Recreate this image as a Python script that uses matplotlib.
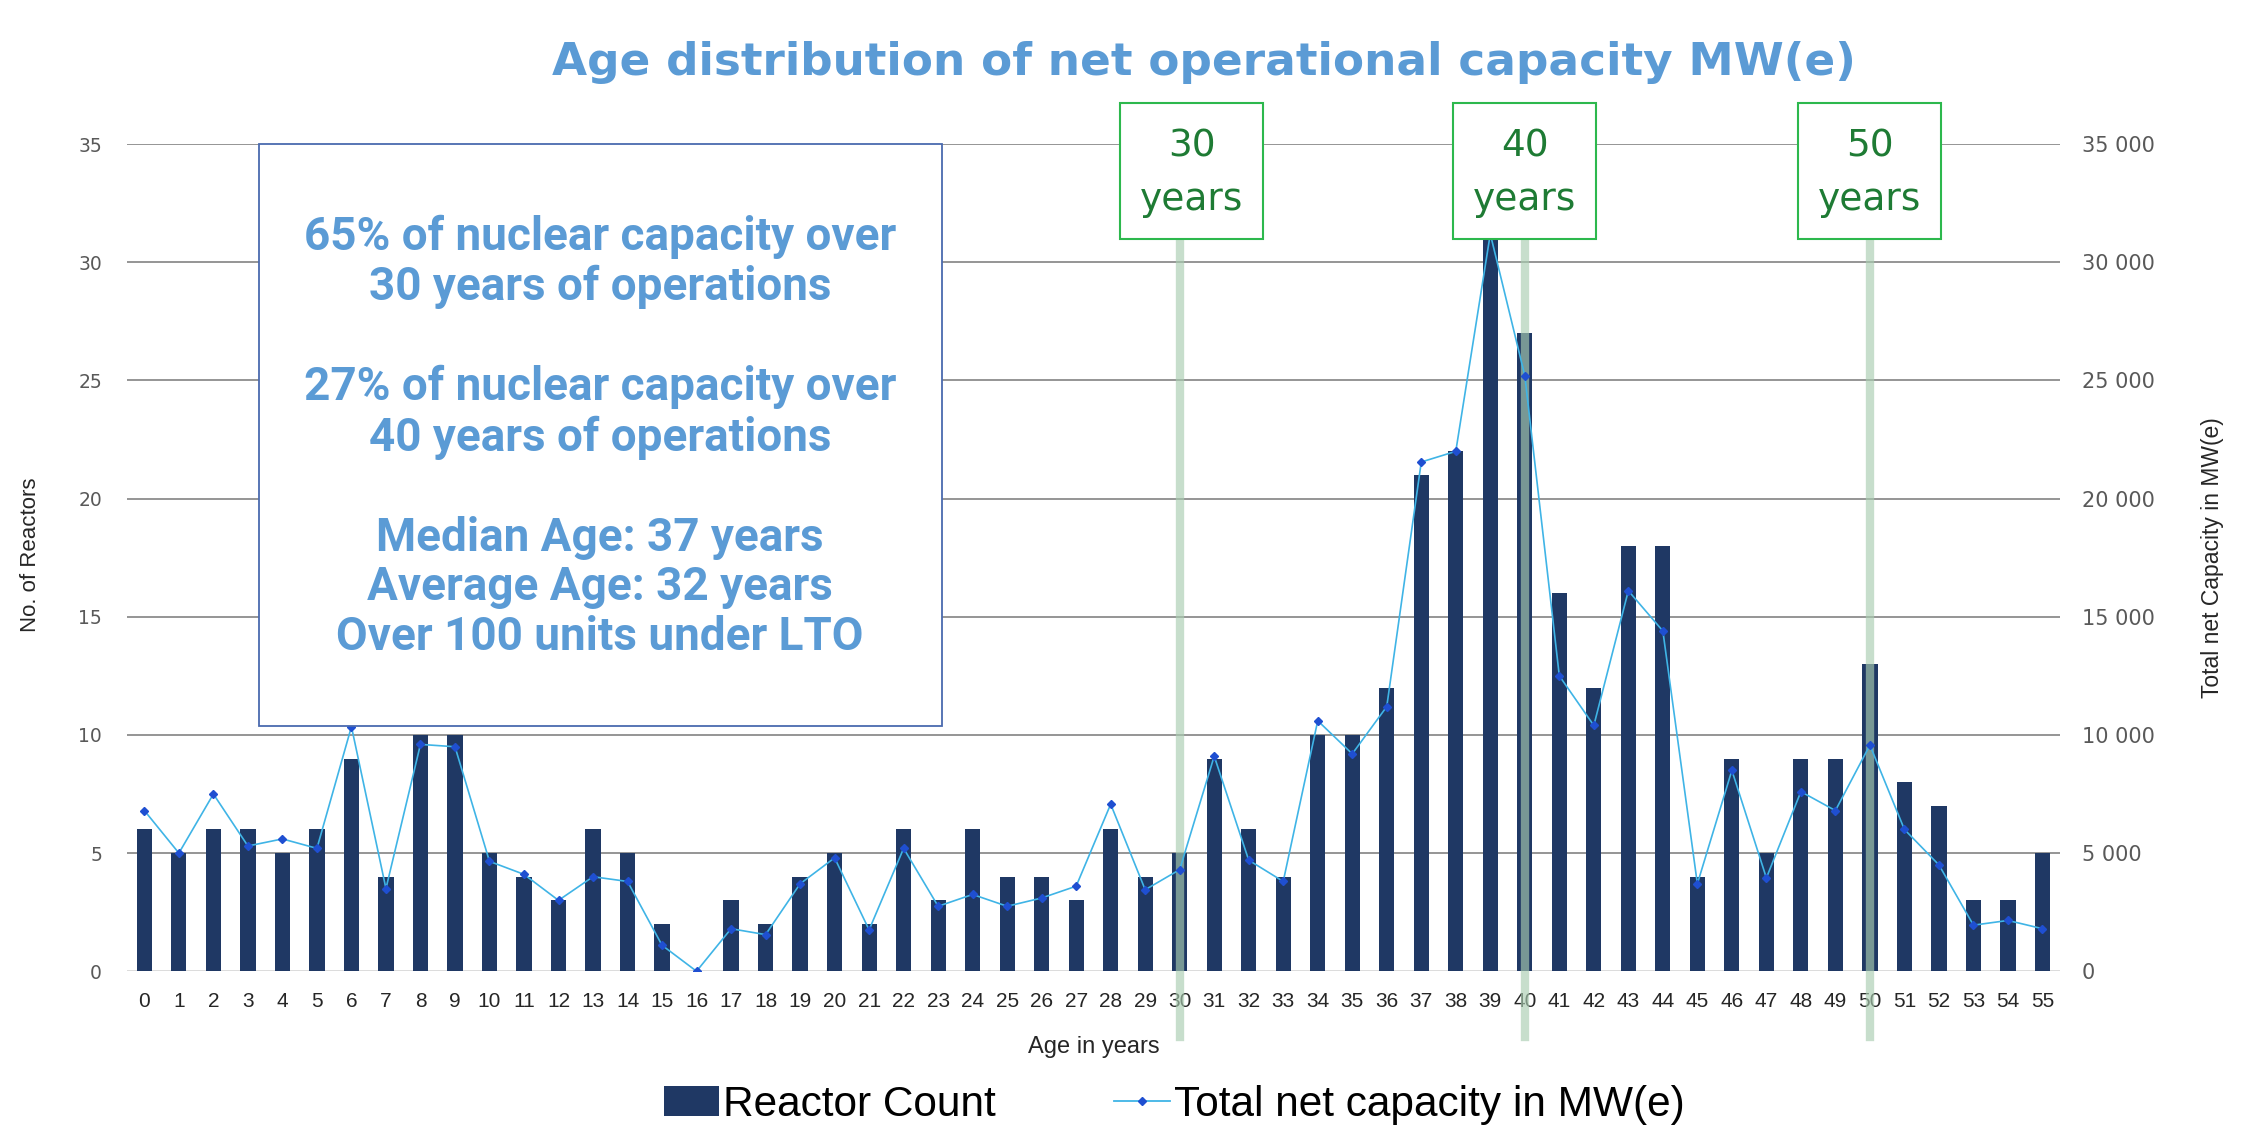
import matplotlib.pyplot as plt
import matplotlib.transforms as mtransforms
from matplotlib.patches import Rectangle
from matplotlib.lines import Line2D
from matplotlib.ticker import FuncFormatter

# Datos
ages = list(range(56))
reactor_count = [6, 5, 6, 6, 5, 6, 9, 4, 10, 10,
                 5, 4, 3, 6, 5, 2, 0, 3, 2, 4,
                 5, 2, 6, 3, 6, 4, 4, 3, 6, 4,
                 5, 9, 6, 4, 10, 10, 12, 21, 22, 31,
                 27, 16, 12, 18, 18, 4, 9, 5, 9, 9,
                 13, 8, 7, 3, 3, 5]
capacity_mw = [6800, 5000, 7500, 5300, 5600, 5200, 10350, 3500, 9600, 9500,
               4650, 4100, 3000, 4000, 3800, 1100, 0, 1800, 1550, 3700,
               4800, 1750, 5200, 2750, 3250, 2750, 3100, 3600, 7070, 3450,
               4300, 9100, 4700, 3800, 10600, 9200, 11200, 21550, 22000, 31200,
               25200, 12500, 10400, 16100, 14400, 3700, 8500, 3950, 7600, 6800,
               9570, 6000, 4500, 1950, 2150, 1800]
milestones = [30, 40, 50]
left_ticks = [0, 5, 10, 15, 20, 25, 30, 35]
right_ticks = [0, 5000, 10000, 15000, 20000, 25000, 30000, 35000]

box_lines = ["65% of nuclear capacity over", "30 years of operations", "",
             "27% of nuclear capacity over", "40 years of operations", "",
             "Median Age: 37 years", "Average Age: 32 years",
             "Over 100 units under LTO"]

navy = '#1f3864'
light_blue = '#5b9bd5'
green_text = '#1e7b34'
grey_txt = '#595959'

fig = plt.figure(figsize=(22.42, 11.44), dpi=100)
ax = fig.add_axes([0.0567, 0.151, 0.862, 0.723])
ax2 = ax.twinx()

# Lineas de rejilla
for t in left_ticks:
    ax.axhline(t, color='#d9d9d9' if t == 0 else '#8c8c8c', lw=1.3, zorder=0)

ax.bar(ages, reactor_count, width=0.44, color=navy, zorder=2)

ax.set_xlim(-0.5, 55.5)
ax.set_ylim(0, 35)
ax2.set_ylim(0, 35000)
ax.set_xticks(ages)
ax.set_yticks(left_ticks)
ax2.set_yticks(right_ticks)
ax2.yaxis.set_major_formatter(FuncFormatter(lambda v, p: f"{int(v):,}".replace(",", " ")))

for a in (ax, ax2):
    for s in a.spines.values():
        s.set_visible(False)
ax.tick_params(axis='x', length=0, pad=15, labelsize=15, labelcolor='#262626')
ax.tick_params(axis='y', length=0, pad=18, labelsize=13.5, labelcolor=grey_txt)
ax2.tick_params(axis='y', length=0, pad=16, labelsize=15, labelcolor=grey_txt)
for lab in ax.get_xticklabels():
    lab.set_family('Liberation Sans')

ax.set_xlabel("Age in years", fontsize=17, color='#262626', family='Liberation Sans')
ax.xaxis.set_label_coords(0.5, -0.078)
ax.set_ylabel("No. of Reactors", fontsize=16, color='#262626', family='Liberation Sans')
ax.yaxis.set_label_coords(-0.0445, 0.503)
ax2.set_ylabel("Total net Capacity in MW(e)", fontsize=16.5, color='#262626',
               family='Liberation Sans', rotation=90)
ax2.yaxis.set_label_coords(1.073, 0.5)

# Lineas verdes y recuadros de 30/40/50 anios
trans = mtransforms.blended_transform_factory(ax.transData, ax.transAxes)
box_shift = {30: 0.35, 40: 0.0, 50: 0.0}
for m in milestones:
    ax.axvline(m, ymin=-0.08, ymax=0.885, color='#a9cdb1', alpha=0.65,
               lw=6, zorder=3, clip_on=False)
    cx = m + box_shift[m]
    ax2.add_patch(Rectangle((cx - 2.07, 0.885), 4.14, 0.1645, transform=trans,
                            facecolor='white', edgecolor='#2db84d', lw=1.5,
                            clip_on=False, zorder=5))
    ax2.text(cx, 0.965, f"{m}\nyears", transform=trans, ha='center', va='center',
             fontsize=27, color=green_text, linespacing=1.62, zorder=6)

ax2.plot(ages, capacity_mw, color='#3fb4e6', lw=1.2, marker='D', markersize=4.5,
         markerfacecolor='#1f4fd1', markeredgecolor='#1f4fd1', zorder=4)

# Recuadro de texto
fig.patches.append(Rectangle((0.1155, 0.3654), 0.3046, 0.5087, transform=fig.transFigure,
                             facecolor='white', edgecolor='#4a6aaf', lw=1.3, zorder=10))
fig.text(0.2676, 0.618, "\n".join(box_lines), ha='center', va='center',
         fontsize=33, fontweight='bold', color=light_blue, family='Roboto',
         linespacing=1.17, zorder=11)

fig.text(0.537, 0.945, "Age distribution of net operational capacity MW(e)",
         ha='center', va='center', fontsize=32.7, fontweight='bold', color=light_blue,
         family='DejaVu Sans')

# Leyenda
handles = [Rectangle((0, 0), 1, 1, facecolor=navy),
           Line2D([0], [0], color='#3fb4e6', lw=1.3, marker='D', markersize=4.5,
                  markerfacecolor='#1f4fd1', markeredgecolor='#1f4fd1')]
fig.legend(handles, ["Reactor Count", "Total net capacity in MW(e)"],
           loc='center', bbox_to_anchor=(0.5237, 0.034), ncol=2, frameon=False,
           prop={'family': 'Liberation Sans', 'size': 30.5}, handlelength=1.3,
           handletextpad=0.1, columnspacing=2.8)

fig.savefig("out.png", dpi=100, facecolor='white')
